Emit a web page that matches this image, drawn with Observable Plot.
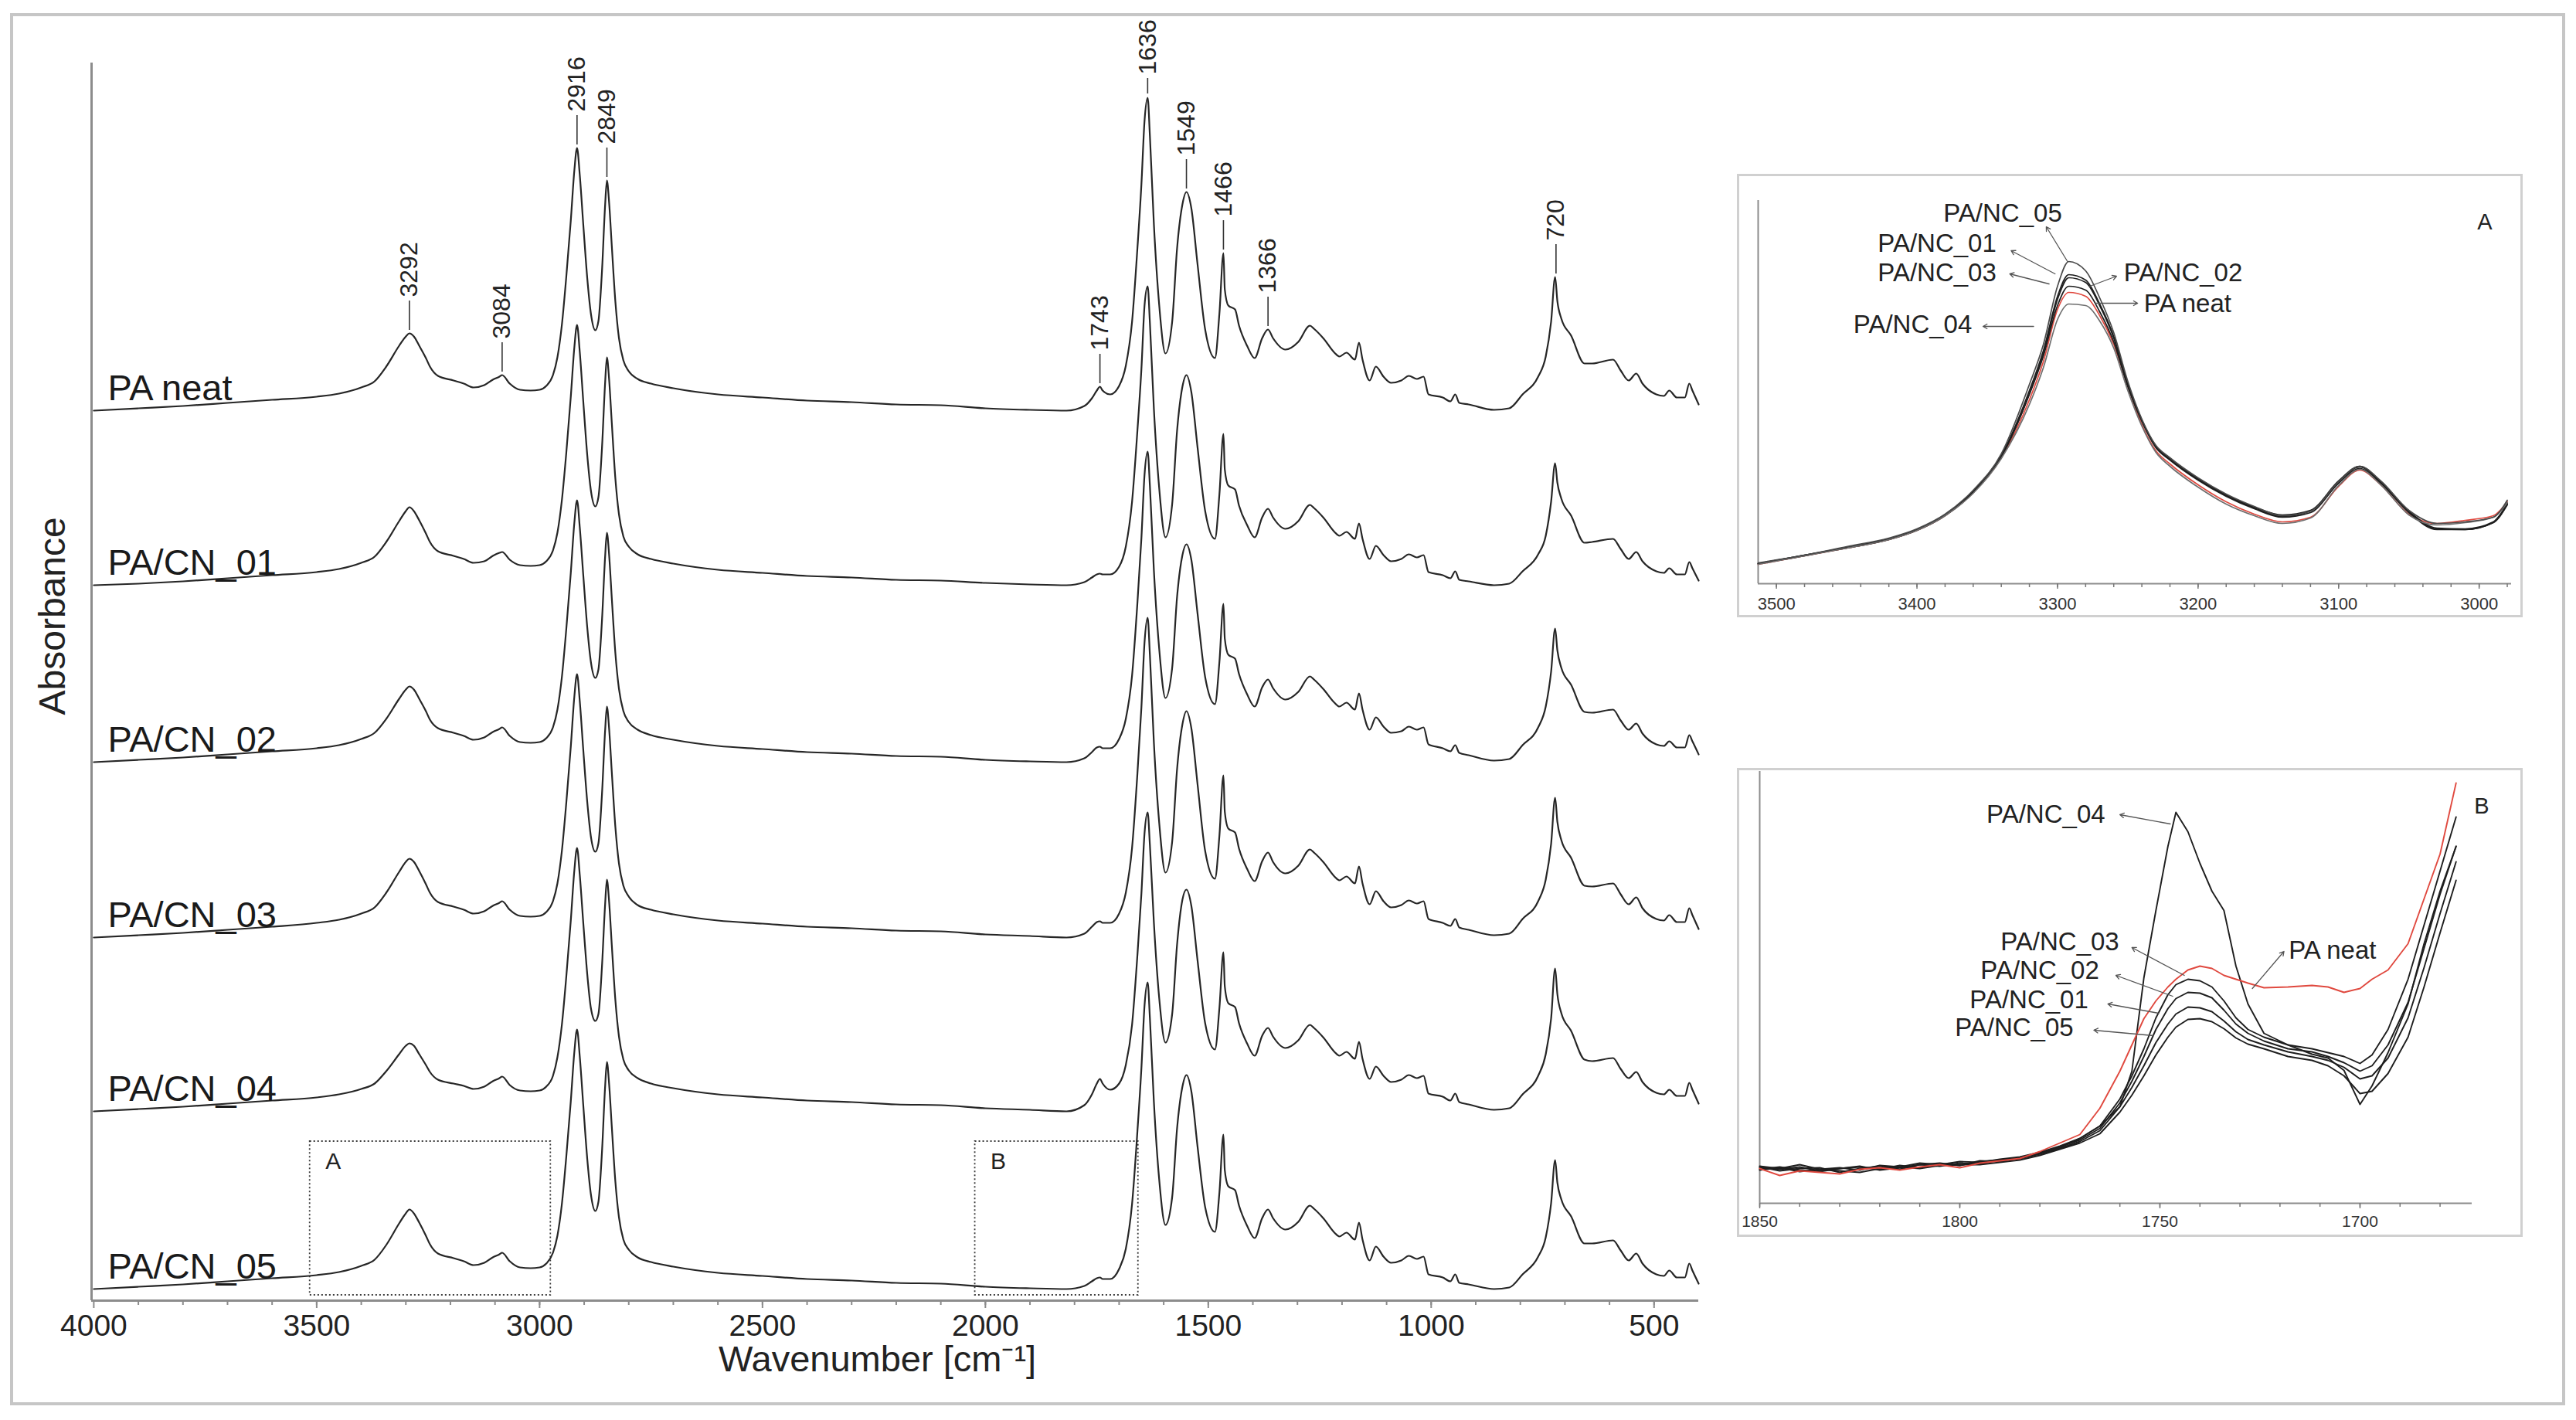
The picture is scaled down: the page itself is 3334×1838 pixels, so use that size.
<!DOCTYPE html>
<html>
<head>
<meta charset="utf-8">
<script src="https://cdn.jsdelivr.net/npm/d3@7"></script>
<script src="https://cdn.jsdelivr.net/npm/@observablehq/plot@0.6"></script>
<style>
html, body { margin: 0; padding: 0; background: #fff; }
#fig { position: relative; width: 3334px; height: 1838px; background: #fff; overflow: hidden; font-family: "Liberation Sans", Arial, Helvetica, sans-serif; }
#border { position: absolute; left: 13px; top: 17px; width: 3307px; height: 1802px; border: 4px solid #c6c6c6; box-sizing: border-box; }
.frame { position: absolute; border: 3px solid #d0d0d0; box-sizing: border-box; }
.slot { position: absolute; }
</style>
</head>
<body>
<div id="fig">
  <div id="border"></div>
  <div class="frame" style="left:2248px;top:225px;width:1017px;height:574px"></div>
  <div class="frame" style="left:2248px;top:994px;width:1017px;height:607px"></div>
  <div id="main" class="slot" style="left:0;top:0;width:2260px;height:1838px"></div>
  <div id="insetA" class="slot" style="left:2248px;top:225px;width:1017px;height:574px"></div>
  <div id="insetB" class="slot" style="left:2248px;top:994px;width:1017px;height:607px"></div>
</div>
<script>
// ---------------- MAIN SPECTRA ----------------
const seriesNames = ["PA neat", "PA/CN_01", "PA/CN_02", "PA/CN_03", "PA/CN_04", "PA/CN_05"];
const wavenumber = [
 4000,3900,3800,3700,3600,3500,3450,3400,3370,3344,
 3315,3300,3292,3282,3270,3255,3246,3228,3193,3170,
 3148,3124,3105,3090,3084,3067,3044,3020,3000,2985,
 2970,2960,2950,2940,2930,2922,2916,2910,2902,2893,
 2885,2875,2868,2860,2853,2849,2844,2838,2830,2822,
 2812,2800,2780,2750,2700,2600,2500,2400,2300,2200,
 2100,2000,1900,1818,1778,1761,1750,1743,1737,1720,
 1700,1685,1671,1659,1650,1643,1636,1631,1622,1610,
 1596,1581,1570,1558,1549,1538,1524,1507,1485,1475,
 1466,1463,1455,1440,1431,1413,1396,1379,1366,1355,
 1327,1298,1272,1263,1241,1217,1206,1190,1171,1162,
 1154,1138,1124,1107,1090,1067,1050,1032,1017,1006,
 974,957,946,937,916,859,825,795,760,743,
 731,722,717,708,686,656,639,592,575,557,
 540,526,495,478,466,449,431,421,414,400];

// absorbance above each sample's own baseline (a.u. x 1000)
const absPAneat = [
 0,3,6,10,14,18,22,30,38,57,
 84,96,100,96,84,68,57,45,39,35,
 30,33,40,44,46,35,27,26,27,32,
 46,69,111,174,246,311,340,306,241,171,
 126,104,116,181,266,298,269,213,141,94,
 65,51,41,35,29,21,17,13,11,8,
 7,3,1,0,6,16,26,31,26,21,
 32,58,115,210,293,375,405,356,241,136,
 74,115,210,267,283,262,189,105,68,126,
 204,157,136,131,110,84,68,94,105,94,
 79,89,110,106,93,75,70,75,66,88,
 66,39,57,44,36,39,45,41,44,21,
 17,12,21,10,8,1,3,21,44,70,
 115,173,142,119,97,61,61,66,52,39,
 48,35,21,19,26,17,17,35,26,8];
const absCN01 = [
 0,2,5,9,13,17,21,29,37,56,
 83,96,101,96,84,67,56,44,38,34,
 29,31,38,42,43,33,26,25,26,31,
 45,68,110,172,244,308,337,303,238,168,
 123,102,114,178,262,295,266,210,138,92,
 63,50,40,34,28,20,16,12,10,7,
 6,3,1,0,4,10,14,15,14,14,
 24,50,108,200,280,362,387,340,228,125,
 62,105,200,257,272,250,178,96,60,118,
 196,150,129,124,103,78,62,88,99,88,
 73,83,104,100,87,69,64,69,60,80,
 60,34,51,39,31,34,40,36,39,17,
 13,9,18,7,5,0,2,18,40,64,
 108,158,133,112,90,55,56,60,47,34,
 43,31,18,16,22,14,14,30,22,6];
const absCN02 = [
 0,3,6,10,14,18,22,30,38,56,
 82,94,98,94,82,66,55,44,38,34,
 29,32,39,43,45,34,26,25,26,31,
 45,68,110,173,245,310,339,305,242,174,
 130,109,120,184,266,297,268,212,141,95,
 66,52,42,35,29,21,17,13,11,8,
 7,3,1,0,5,13,19,20,18,18,
 30,56,112,206,290,372,402,358,248,146,
 83,122,214,268,282,262,192,110,75,130,
 205,160,139,134,114,88,72,97,107,96,
 81,91,111,107,94,77,72,77,68,89,
 68,42,58,46,38,40,46,42,45,23,
 18,14,22,12,9,2,4,22,45,72,
 117,173,145,122,100,65,64,68,54,42,
 50,37,23,21,27,19,19,35,27,10];
const absCN03 = [
 0,3,6,10,14,19,23,31,39,58,
 85,98,102,98,86,69,58,46,40,36,
 31,34,41,45,47,36,28,27,28,33,
 47,70,112,175,247,312,341,307,243,175,
 131,111,122,186,268,299,270,214,143,96,
 67,53,42,36,30,22,18,14,12,9,
 8,4,2,0,5,14,20,21,19,19,
 31,58,116,212,298,382,414,366,252,148,
 84,124,218,276,293,271,198,112,76,132,
 210,163,141,136,115,89,73,99,110,98,
 83,93,114,110,97,79,74,79,70,92,
 70,43,60,47,39,42,48,44,47,24,
 19,15,24,13,10,3,5,24,47,75,
 121,181,150,126,103,67,66,70,56,43,
 52,38,24,22,29,20,20,38,29,11];
const absCN04 = [
 0,3,6,10,14,18,22,29,36,52,
 74,85,88,85,74,60,51,41,36,33,
 29,32,39,43,45,34,27,26,27,32,
 46,70,112,175,247,312,341,307,244,177,
 134,117,126,188,268,300,271,215,144,97,
 67,53,43,36,30,22,18,14,12,9,
 8,4,2,0,8,22,36,42,36,28,
 36,60,112,202,282,360,387,345,244,146,
 89,126,216,274,287,266,195,114,80,134,
 206,162,140,135,114,88,72,98,108,97,
 82,92,112,108,95,77,72,77,68,90,
 68,42,58,46,38,41,47,43,46,23,
 19,14,23,12,9,2,4,22,46,74,
 120,185,152,127,104,67,65,69,55,43,
 51,38,24,22,28,20,20,37,28,10];
const absCN05 = [
 0,3,6,10,14,18,22,30,38,57,
 85,98,103,98,86,69,58,46,40,36,
 31,34,41,45,47,36,28,27,28,33,
 47,69,110,172,243,307,336,302,238,168,
 123,101,113,178,262,294,265,210,139,93,
 64,51,41,35,29,21,17,13,11,8,
 7,3,1,0,4,10,14,15,13,13,
 26,52,110,204,286,367,397,351,242,141,
 83,119,208,262,277,256,184,106,74,125,
 200,154,133,128,108,82,66,92,103,92,
 77,87,108,104,91,73,68,73,64,86,
 64,37,55,42,34,37,43,39,42,19,
 15,10,19,8,6,0,2,19,42,67,
 111,167,138,116,94,59,59,63,50,37,
 46,33,19,17,24,15,15,33,24,7];
const spectra = [absPAneat, absCN01, absCN02, absCN03, absCN04, absCN05];
// vertical display offset of each stacked spectrum
const stackOffset = [1152, 926, 697, 470, 245, 15];

const xTicksMajor = [4000, 3500, 3000, 2500, 2000, 1500, 1000, 500];
const xTicksMinor = d3.range(3900, 400, -100);
const peakLabels = [3292, 3084, 2916, 2849, 1743, 1636, 1549, 1466, 1366, 720];

// zoomed regions marked in the main chart
const zoomNames = ["A", "B"];
const zoomFrom = [3515, 2023];
const zoomTo = [2975, 1657];
const zoomLow = 7, zoomHigh = 206;

// ---------------- INSET A (3513–2977 cm-1) ----------------
const insetNames = ["PA neat", "PA/NC_01", "PA/NC_02", "PA/NC_03", "PA/NC_04", "PA/NC_05"];
const wnA = [3513,3480,3450,3420,3400,3380,3360,3340,3320,3310,3300,3292,3280,3270,3260,3250,
             3240,3230,3220,3200,3180,3160,3140,3120,3100,3085,3070,3050,3030,3010,2990,2980];
const aPAneat = [25,36,46,57,69,88,118,163,238,288,355,377,372,347,310,255,206,172,155,128,106,90,80,86,126,147,128,90,78,82,88,106];
const aNC01  = [26,37,47,58,70,89,120,166,250,302,372,400,393,362,320,258,212,178,162,136,115,99,89,95,133,152,132,94,72,71,80,104];
const aNC02  = [26,36,47,58,70,89,119,165,246,298,368,396,390,360,318,257,211,177,161,135,114,98,87,94,132,151,131,93,71,70,79,103];
const aNC03  = [26,37,46,57,69,88,118,164,245,295,360,385,380,352,313,255,210,176,160,134,113,97,86,92,130,149,130,92,70,70,79,102];
const aNC04  = [25,36,46,57,69,88,117,162,232,280,342,362,360,340,305,250,204,170,152,125,103,88,78,85,127,148,128,89,76,79,86,105];
const aNC05  = [27,37,48,59,71,90,121,168,258,310,385,417,405,370,325,262,213,179,163,137,116,100,88,94,132,152,133,95,78,80,86,108];
const insetA = [aPAneat, aNC01, aNC02, aNC03, aNC04, aNC05];
const ticksAMajor = [3500, 3400, 3300, 3200, 3100, 3000];
const ticksAMinor = d3.range(3500, 2977, -20);

// ---------------- INSET B (1850–1672 cm-1) ----------------
const wnB = [1850,1845,1840,1835,1830,1825,1820,1815,1810,1805,1800,1795,1790,1785,
             1780,1775,1770,1765,1760,1757,1754,1751,1748,1746,1743,1740,1737,1734,1731,1728,1724,1718,1712,1708,1704,1700,1697,1693,1688,1684,1680,1676];
const bPAneat = [45,36,42,40,38,44,46,43,47,50,46,52,55,58,67,78,89,123,171,205,239,262,280,290,302,307,304,295,290,285,279,280,282,280,273,278,290,302,336,394,452,544];
const bNC01  = [47,42,45,46,40,45,48,44,50,48,52,51,56,58,64,71,80,94,125,150,178,208,232,245,254,253,248,236,222,212,205,196,190,185,176,161,165,188,240,305,375,442];
const bNC02  = [44,47,43,41,45,47,44,49,46,51,49,55,54,59,65,73,82,97,130,158,190,225,252,265,273,272,266,250,232,220,210,200,196,190,182,171,178,205,260,330,400,462];
const bNC03  = [48,45,50,44,46,43,49,47,52,50,54,53,57,60,66,74,84,100,135,165,200,240,270,283,290,288,280,262,240,225,215,205,200,195,190,181,192,225,290,360,430,500];
const bNC04  = [46,44,47,42,45,48,43,46,50,52,49,54,56,58,64,72,84,100,125,171,292,379,462,506,481,440,404,379,307,258,220,205,193,188,172,128,152,195,258,336,404,462];
const bNC05  = [43,46,41,44,42,40,45,47,45,49,50,50,53,56,62,70,78,90,118,140,165,192,215,228,238,239,235,226,214,206,200,190,185,178,165,142,145,168,215,280,350,418];
const insetB = [bPAneat, bNC01, bNC02, bNC03, bNC04, bNC05];
const ticksBMajor = [1850, 1800, 1750, 1700];
const ticksBMinor = d3.range(1850, 1672, -10);

// label / arrow placement in the insets (annotation layout)
const labelsA = [
  {text: "PA/NC_05", tx: 3339, ty: 479, anchor: "middle", x1: 3292.9, y1: 417, x2: 3308, y2: 462},
  {text: "PA/NC_01", tx: 3385.7, ty: 440, anchor: "middle", x1: 3301.7, y1: 401, x2: 3333, y2: 431},
  {text: "PA/NC_03", tx: 3385.7, ty: 402, anchor: "middle", x1: 3306, y1: 388, x2: 3334, y2: 401},
  {text: "PA/NC_02", tx: 3252.8, ty: 402, anchor: "start", x1: 3277, y1: 385, x2: 3258, y2: 398},
  {text: "PA neat", tx: 3238.5, ty: 362, anchor: "start", x1: 3273, y1: 363, x2: 3243, y2: 363},
  {text: "PA/NC_04", tx: 3403, ty: 335, anchor: "middle", x1: 3317, y1: 333, x2: 3353, y2: 333}
];
const labelsB = [
  {text: "PA/NC_04", tx: 1778.5, ty: 503, anchor: "middle", x1: 1747.4, y1: 491, x2: 1760, y2: 503},
  {text: "PA/NC_03", tx: 1775, ty: 338, anchor: "middle", x1: 1743.9, y1: 295, x2: 1757, y2: 331},
  {text: "PA/NC_02", tx: 1780, ty: 301, anchor: "middle", x1: 1746.8, y1: 268, x2: 1761, y2: 295},
  {text: "PA/NC_01", tx: 1782.7, ty: 263, anchor: "middle", x1: 1750.3, y1: 246, x2: 1763, y2: 258},
  {text: "PA/NC_05", tx: 1786.4, ty: 227, anchor: "middle", x1: 1751.6, y1: 217, x2: 1766.5, y2: 224},
  {text: "PA neat", tx: 1717.8, ty: 327, anchor: "start", x1: 1726.9, y1: 278, x2: 1719, y2: 326}
];

// ---------------- BUILD ----------------
const FONT = '"Liberation Sans", Arial, Helvetica, sans-serif';
const AXIS = "#8c8c8c";
const INK = "#1e1e1e";
const RED = "#e0493f";
const plain = d => String(d);
const baseStyle = {fontFamily: FONT, background: "transparent", overflow: "visible", maxWidth: "none", color: INK};

const rows = seriesNames.flatMap((s, i) => wavenumber.map((w, j) => ({series: s, wn: w, a: spectra[i][j] + stackOffset[i]})));
const starts = rows.filter(d => d.wn === wavenumber[0]);
function neatAt(w) {
  let best = 0;
  wavenumber.forEach((v, j) => { if (Math.abs(v - w) < Math.abs(wavenumber[best] - w)) best = j; });
  return spectra[0][best] + stackOffset[0];
}
const annLayout = {def: {r1: 4, r2: 42, t: 47}, 1636: {r1: 5, r2: 25, t: 30}};
const anns = peakLabels.map(p => {
  const L = annLayout[p] || annLayout.def;
  const v = neatAt(p);
  return {wn: p, y1: v + L.r1, y2: v + L.r2, yt: v + L.t, label: String(p)};
});
const boxes = zoomNames.map((n, i) => ({name: n, x1: zoomFrom[i], x2: zoomTo[i], y1: zoomLow, y2: zoomHigh}));

const mainPlot = Plot.plot({
  width: 2260, height: 1838,
  marginLeft: 118, marginRight: 62, marginTop: 81, marginBottom: 155,
  x: {domain: [4005, 400], label: null},
  y: {domain: [0, 1602], axis: null, label: null},
  style: baseStyle,
  marks: [
    Plot.ruleX([4005], {stroke: AXIS, strokeWidth: 3}),
    Plot.ruleY([0], {stroke: AXIS, strokeWidth: 3}),
    Plot.axisX(xTicksMinor, {tickSize: 6, fill: "none", stroke: AXIS, strokeWidth: 2, label: null}),
    Plot.axisX(xTicksMajor, {tickSize: 10, tickPadding: 8, fontSize: 39, tickFormat: plain, stroke: AXIS, strokeWidth: 2, fill: "#222", label: null}),
    Plot.rect(boxes, {x1: "x1", x2: "x2", y1: "y1", y2: "y2", fill: "none", stroke: "#3a3a3a", strokeWidth: 1.8, strokeDasharray: "2,3"}),
    Plot.text(boxes, {x: "x1", y: "y2", text: "name", dx: 20, dy: 26, textAnchor: "start", fontSize: 30, fill: "#222"}),
    Plot.line(rows, {x: "wn", y: "a", z: "series", stroke: "#262626", strokeWidth: 2.2, curve: "monotone-x"}),
    Plot.text(starts, {x: "wn", y: "a", text: "series", dx: 18, dy: -14, textAnchor: "start", lineAnchor: "bottom", fontSize: 47, fill: "#1a1a1a"}),
    Plot.ruleX(anns, {x: "wn", y1: "y1", y2: "y2", stroke: "#333", strokeWidth: 1.6}),
    Plot.text(anns, {x: "wn", y: "yt", text: "label", rotate: -90, textAnchor: "start", fontSize: 32, fill: "#222"}),
    Plot.text(["Absorbance"], {text: d => d, frameAnchor: "left", dx: -50, dy: 43, rotate: -90, fontSize: 48, fill: "#222"}),
    Plot.text(["Wavenumber [cm\u207B\u00B9]"], {text: d => d, frameAnchor: "bottom", dx: -23, dy: 91, fontSize: 47, fill: "#222"})
  ]
});
document.getElementById("main").append(mainPlot);

function insetRows(names, grid, values) {
  return names.flatMap((s, i) => grid.map((w, j) => ({series: s, wn: w, a: values[i][j]})));
}
const rowsA = insetRows(insetNames, wnA, insetA);
const greyA = {"PA/NC_04": "#6e6e6e", "PA/NC_05": "#4a4a4a"};

const plotA = Plot.plot({
  width: 1017, height: 574,
  marginLeft: 27, marginRight: 15, marginTop: 34, marginBottom: 44,
  x: {domain: [3513, 2977], label: null},
  y: {domain: [0, 496], axis: null, label: null},
  style: baseStyle,
  marks: [
    Plot.ruleX([3513], {stroke: AXIS, strokeWidth: 2}),
    Plot.ruleY([0], {stroke: AXIS, strokeWidth: 2}),
    Plot.axisX(ticksAMinor, {tickSize: 5, fill: "none", stroke: "#777", strokeWidth: 1.5, label: null}),
    Plot.axisX(ticksAMajor, {tickSize: 7, tickPadding: 11, fontSize: 22, tickFormat: plain, stroke: "#777", strokeWidth: 1.5, fill: "#333", label: null}),
    Plot.line(rowsA.filter(d => d.series === "PA neat"), {x: "wn", y: "a", stroke: RED, strokeWidth: 1.7, curve: "monotone-x"}),
    ...insetNames.filter(n => n !== "PA neat").map(n =>
      Plot.line(rowsA.filter(d => d.series === n), {x: "wn", y: "a", stroke: greyA[n] || INK, strokeWidth: 1.7, curve: "monotone-x"})),
    Plot.arrow(labelsA, {x1: "x1", y1: "y1", x2: "x2", y2: "y2", stroke: "#555", strokeWidth: 1.3, headLength: 7}),
    Plot.text(labelsA.filter(d => d.anchor === "middle"), {x: "tx", y: "ty", text: "text", textAnchor: "middle", fontSize: 33, fill: "#222"}),
    Plot.text(labelsA.filter(d => d.anchor === "start"), {x: "tx", y: "ty", text: "text", textAnchor: "start", fontSize: 33, fill: "#222"}),
    Plot.text(["A"], {text: d => d, frameAnchor: "top-right", dx: -25, dy: 17, fontSize: 29, fill: "#222"})
  ]
});
document.getElementById("insetA").append(plotA);

const rowsB = insetRows(insetNames, wnB, insetB);
const plotB = Plot.plot({
  width: 1017, height: 607,
  marginLeft: 29, marginRight: 66, marginTop: 4, marginBottom: 44,
  x: {domain: [1850, 1672], label: null},
  y: {domain: [0, 559], axis: null, label: null},
  style: baseStyle,
  marks: [
    Plot.ruleX([1850], {stroke: AXIS, strokeWidth: 2}),
    Plot.ruleY([0], {stroke: AXIS, strokeWidth: 2}),
    Plot.axisX(ticksBMinor, {tickSize: 5, fill: "none", stroke: "#777", strokeWidth: 1.5, label: null}),
    Plot.axisX(ticksBMajor, {tickSize: 7, tickPadding: 9, fontSize: 21, tickFormat: plain, stroke: "#777", strokeWidth: 1.5, fill: "#333", label: null}),
    ...insetNames.filter(n => n !== "PA neat").map(n =>
      Plot.line(rowsB.filter(d => d.series === n), {x: "wn", y: "a", stroke: INK, strokeWidth: 1.9})),
    Plot.line(rowsB.filter(d => d.series === "PA neat"), {x: "wn", y: "a", stroke: RED, strokeWidth: 1.9}),
    Plot.arrow(labelsB, {x1: "x1", y1: "y1", x2: "x2", y2: "y2", stroke: "#555", strokeWidth: 1.3, headLength: 7}),
    Plot.text(labelsB.filter(d => d.anchor === "middle"), {x: "tx", y: "ty", text: "text", textAnchor: "middle", fontSize: 33, fill: "#222"}),
    Plot.text(labelsB.filter(d => d.anchor === "start"), {x: "tx", y: "ty", text: "text", textAnchor: "start", fontSize: 33, fill: "#222"}),
    Plot.text(["B"], {text: d => d, frameAnchor: "top-right", dx: 22, dy: 34, fontSize: 29, fill: "#222"})
  ]
});
document.getElementById("insetB").append(plotB);
</script>
</body>
</html>
